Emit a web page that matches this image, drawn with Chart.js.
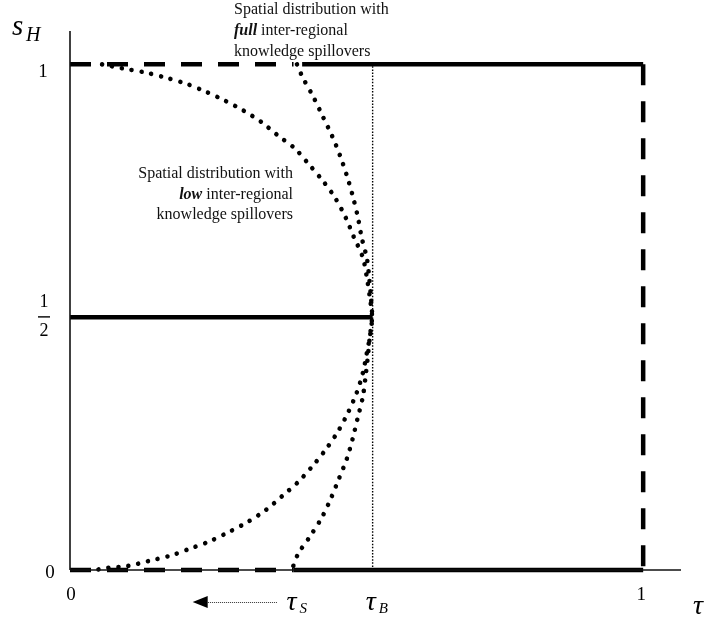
<!DOCTYPE html>
<html>
<head>
<meta charset="utf-8">
<style>
  html, body { margin: 0; padding: 0; background: #fff; }
  canvas { display: block; }
</style>
<script src="https://cdn.jsdelivr.net/npm/chart.js@4.4.1/dist/chart.umd.min.js"></script>
</head>
<body>
<canvas id="c" width="705" height="623"></canvas>
<script>
// ---- data ----
const axisMax = 1.066;
const tauS = 0.39;
const tauB = 0.528;
const half = 0.5;

const xTickValues = [0, 1];
const xTickLabels = ['0', '1'];
const yTickValues = [0, 1];
const yTickLabels = ['0', '1'];

// "full" spillovers curve (upper branch then lower branch)
const fullX = [0.396, 0.406, 0.424, 0.441, 0.457, 0.471, 0.483, 0.493, 0.502, 0.509, 0.518, 0.522, 0.525, 0.527,
               0.523, 0.520, 0.516, 0.511, 0.502, 0.493, 0.483, 0.469, 0.455, 0.439, 0.418, 0.398, 0.387];
const fullY = [1.000, 0.974, 0.937, 0.897, 0.859, 0.820, 0.780, 0.741, 0.699, 0.657, 0.616, 0.578, 0.540, 0.500,
               0.460, 0.426, 0.386, 0.343, 0.301, 0.259, 0.220, 0.180, 0.141, 0.103, 0.065, 0.032, 0.000];

// "low" spillovers curve (upper branch then lower branch)
const lowX = [0.056, 0.092, 0.131, 0.166, 0.202, 0.235, 0.269, 0.302, 0.335, 0.363, 0.392, 0.417, 0.441, 0.462, 0.481, 0.495, 0.511, 0.518, 0.523, 0.527,
              0.523, 0.518, 0.511, 0.500, 0.485, 0.467, 0.446, 0.422, 0.398, 0.371, 0.342, 0.310, 0.277, 0.244, 0.209, 0.174, 0.138, 0.101, 0.065, 0.044];
const lowY = [1.000, 0.992, 0.984, 0.974, 0.962, 0.947, 0.929, 0.909, 0.885, 0.859, 0.834, 0.802, 0.770, 0.737, 0.697, 0.659, 0.618, 0.578, 0.540, 0.500,
              0.460, 0.430, 0.390, 0.350, 0.311, 0.273, 0.238, 0.204, 0.174, 0.147, 0.119, 0.095, 0.075, 0.057, 0.042, 0.028, 0.018, 0.008, 0.004, 0.000];

const arrowX = [0.361, 0.214]; // from (tail) to (tip), in tau units

const topNote = ['Spatial distribution with', ['full', ' inter-regional'], 'knowledge spillovers'];
const midNote = ['Spatial distribution with', ['low', ' inter-regional'], 'knowledge spillovers'];

// ---- helpers ----
const pts = (xs, ys) => xs.map((x, i) => ({ x: x, y: ys[i] }));
const DASH = [21, 16];
const seg = (p, opts) => Object.assign({
  data: p, showLine: true, pointRadius: 0, borderColor: '#000', borderWidth: 4.5,
  fill: false, clip: false, tension: 0
}, opts);

const datasets = [
  // axes
  seg([{x: 0, y: 0}, {x: 0, y: axisMax}], { borderWidth: 1.6, borderColor: '#111' }),
  seg([{x: 0, y: 0}, {x: axisMax, y: 0}], { borderWidth: 1.6, borderColor: '#111' }),
  // dashed branches
  seg([{x: 0, y: 1}, {x: tauS, y: 1}], { borderDash: DASH }),
  seg([{x: 0, y: 0}, {x: tauS, y: 0}], { borderDash: DASH }),
  seg([{x: 1, y: 1}, {x: 1, y: 0}], { borderDash: DASH }),
  // solid branches
  seg([{x: 0.405, y: 1}, {x: 1, y: 1}], {}),
  seg([{x: tauS, y: 0}, {x: 1, y: 0}], {}),
  seg([{x: 0, y: half}, {x: tauB, y: half}], {}),
  // tau_B dotted vertical
  seg([{x: tauB, y: 0}, {x: tauB, y: 1}], { borderWidth: 1.4, borderDash: [1.5, 1.6] }),
  // dotted curves
  seg(pts(fullX, fullY), { borderWidth: 4.6, borderDash: [0.01, 10], borderCapStyle: 'round', tension: 0.3 }),
  seg(pts(lowX, lowY), { borderWidth: 4.6, borderDash: [0.01, 10], borderCapStyle: 'round', tension: 0.3 })
];

const SERIF = '"Liberation Serif", "Times New Roman", serif';

function drawMixed(ctx, line, x, y, align) {
  const parts = Array.isArray(line) ? line : [line];
  const fonts = parts.map((p, i) => (Array.isArray(line) && i === 0) ? 'italic bold 16px ' + SERIF : '16px ' + SERIF);
  let total = 0;
  const widths = parts.map((p, i) => { ctx.font = fonts[i]; const w = ctx.measureText(p).width; total += w; return w; });
  let cx = align === 'right' ? x - total : x;
  ctx.textAlign = 'left';
  parts.forEach((p, i) => { ctx.font = fonts[i]; ctx.fillText(p, cx, y); cx += widths[i]; });
}

const labelsPlugin = {
  id: 'labels',
  afterDraw(chart) {
    const ctx = chart.ctx;
    const xs = chart.scales.x, ys = chart.scales.y;
    ctx.save();
    ctx.fillStyle = '#000';
    ctx.textBaseline = 'alphabetic';

    // y tick labels
    const yDx = [-20, -27];
    ctx.font = '19px ' + SERIF;
    ctx.textAlign = 'center';
    yTickValues.forEach((v, i) => {
      ctx.fillText(yTickLabels[i], xs.getPixelForValue(0) + yDx[i], ys.getPixelForValue(v) + (i === 0 ? 8 : 13));
    });
    // x tick labels
    xTickValues.forEach((v, i) => {
      ctx.fillText(xTickLabels[i], xs.getPixelForValue(v) + (i === 0 ? 1 : -2), ys.getPixelForValue(0) + 30);
    });

    // 1/2 fraction
    const fx = xs.getPixelForValue(0) - 26, fy = ys.getPixelForValue(half);
    ctx.font = '18px ' + SERIF;
    ctx.fillText('1', fx, fy - 10);
    ctx.fillText('2', fx, fy + 19);
    ctx.fillRect(fx - 6, fy - 1, 12, 1.4);

    // s_H
    ctx.textAlign = 'left';
    ctx.font = 'italic 29px ' + SERIF;
    ctx.fillText('s', 12, 35);
    ctx.font = 'italic 20px ' + SERIF;
    ctx.fillText('H', 26, 41);

    // tau labels
    const by = ys.getPixelForValue(0);
    const drawTau = (px, sub) => {
      ctx.font = 'italic 28px ' + SERIF;
      ctx.fillText('τ', px - 7, by + 40);
      if (sub) {
        ctx.font = 'italic 15px ' + SERIF;
        ctx.fillText(sub, px + 6, by + 43);
      }
    };
    drawTau(xs.getPixelForValue(tauS), 'S');
    drawTau(xs.getPixelForValue(tauB), 'B');
    ctx.font = 'italic 28px ' + SERIF;
    ctx.fillText('τ', 693, by + 44);

    // arrow
    const ay = by + 32;
    const ax0 = xs.getPixelForValue(arrowX[0]), ax1 = xs.getPixelForValue(arrowX[1]);
    ctx.strokeStyle = '#333';
    ctx.lineWidth = 1;
    ctx.setLineDash([1, 1]);
    ctx.beginPath(); ctx.moveTo(ax0, ay + 0.5); ctx.lineTo(ax1 + 14, ay + 0.5); ctx.stroke();
    ctx.setLineDash([]);
    ctx.beginPath();
    ctx.moveTo(ax1, ay); ctx.lineTo(ax1 + 15, ay - 6); ctx.lineTo(ax1 + 15, ay + 6); ctx.closePath();
    ctx.fill();

    // annotations
    ctx.fillStyle = '#111';
    [14, 35, 56].forEach((y, i) => drawMixed(ctx, topNote[i], 234, y, 'left'));
    [178, 198.5, 219].forEach((y, i) => drawMixed(ctx, midNote[i], 293, y, 'right'));
    ctx.restore();
  }
};

new Chart(document.getElementById('c'), {
  type: 'scatter',
  data: { datasets: datasets },
  options: {
    responsive: false,
    animation: false,
    events: [],
    layout: { padding: { left: 70, right: 24, top: 31, bottom: 53 } },
    plugins: { legend: { display: false }, tooltip: { enabled: false } },
    scales: {
      x: { type: 'linear', min: 0, max: axisMax, display: false },
      y: { type: 'linear', min: 0, max: axisMax, display: false }
    }
  },
  plugins: [labelsPlugin]
});
</script>
</body>
</html>
